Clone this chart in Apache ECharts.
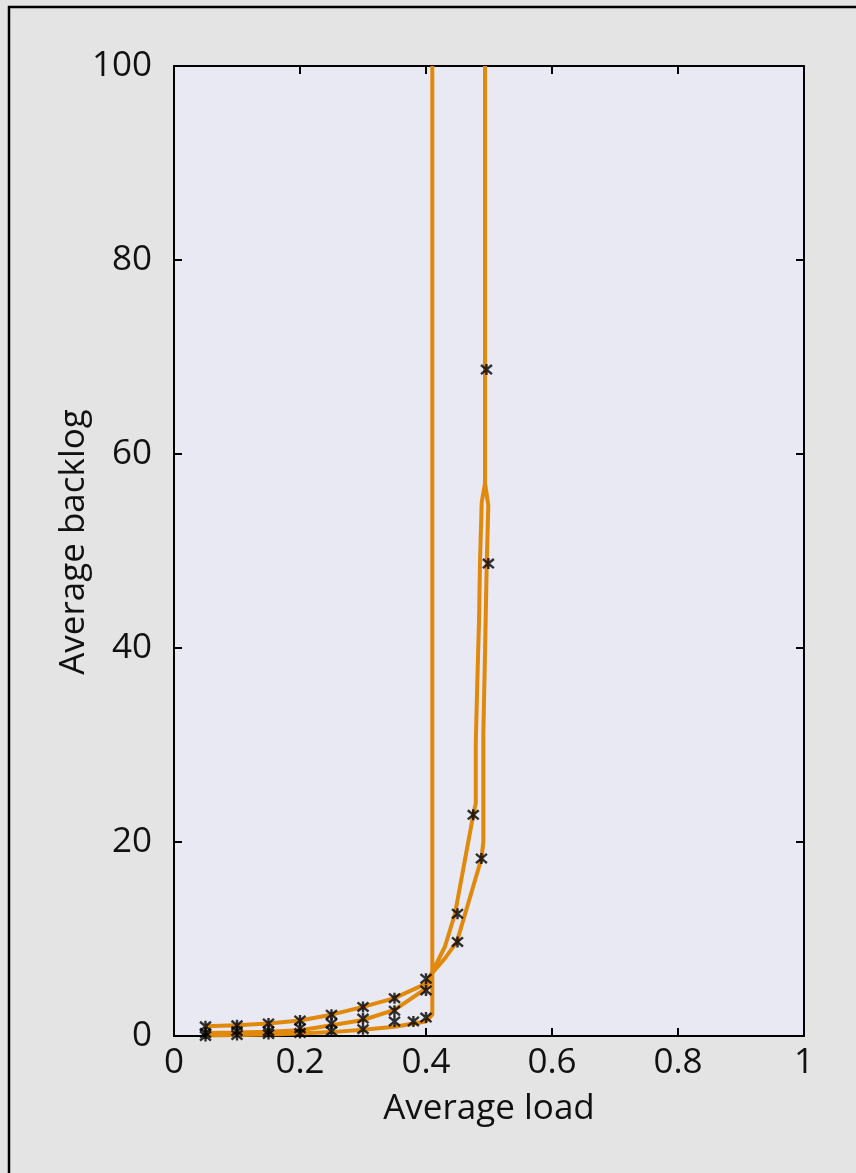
<!DOCTYPE html>
<html>
<head>
<meta charset="utf-8">
<script src="https://cdn.jsdelivr.net/npm/echarts@6/dist/echarts.min.js"></script>
<style>
  html, body { margin: 0; padding: 0; background: #e4e4e4; }
  #chart { width: 856px; height: 1173px; }
</style>
</head>
<body>
<div id="chart"></div>
<script>
// Axis ticks
const xTicks = [0, 0.2, 0.4, 0.6, 0.8, 1];
const yTicks = [0, 20, 40, 60, 80, 100];

// Analytical curves: [load, backlog]
const curveA = [[0.05,1.0],[0.1,1.1],[0.15,1.3],[0.2,1.6],[0.25,2.2],[0.3,3.0],[0.35,3.9],[0.4,5.4],[0.41,6.6],
  [0.43,9.2],[0.446,12.6],[0.475,22.8],[0.479,24],[0.479,30.2],[0.4814,36.4],[0.4841,42.6],[0.4857,48.8],
  [0.4884,55],[0.4937,57],[0.4937,100]];
const curveB = [[0.05,0.3],[0.1,0.35],[0.15,0.45],[0.2,0.6],[0.25,1.1],[0.3,1.65],[0.35,2.7],[0.4,4.9],[0.41,6.5],
  [0.43,8.0],[0.449,9.7],[0.488,18.3],[0.491,20],[0.491,31.2],[0.4937,39.5],[0.4963,48.4],[0.4989,54.7],
  [0.4937,57],[0.4937,100]];
const curveC = [[0.05,0.05],[0.1,0.1],[0.15,0.15],[0.2,0.25],[0.25,0.4],[0.3,0.65],[0.35,0.95],[0.4,1.5],[0.41,2.2],[0.41,100]];

// Simulation points: [load, backlog]
const simA = [[0.05,1.0],[0.1,1.1],[0.15,1.3],[0.2,1.6],[0.25,2.2],[0.3,3.0],[0.35,3.9],[0.4,5.9],[0.45,12.6],[0.475,22.8],[0.496,68.7]];
const simB = [[0.05,0.3],[0.1,0.5],[0.15,0.5],[0.2,0.8],[0.25,1.3],[0.3,1.8],[0.35,2.6],[0.4,4.7],[0.45,9.7],[0.488,18.3],[0.499,48.7]];
const simC = [[0.05,0.0],[0.1,0.1],[0.15,0.2],[0.2,0.3],[0.25,0.5],[0.3,0.7],[0.35,1.5],[0.38,1.5],[0.4,1.9]];

const ORANGE = '#e1890b';
const FONT = '"Open Sans", "Noto Sans", sans-serif';
const FONT_SIZE = 35;
const STAR = 'path://M0,0L10,10M10,0L0,10M5,-1L5,11';

const chart = echarts.init(document.getElementById('chart'), null, { renderer: 'canvas' });

function tickStyle() {
  return { show: true, inside: true, length: 8, lineStyle: { color: '#000', width: 2 } };
}
function lineAxis() {
  return { show: true, onZero: false, lineStyle: { color: '#000', width: 2 } };
}

function lineSeries(data) {
  return {
    type: 'line', data: data, showSymbol: false, symbol: 'none', z: 3,
    lineStyle: { color: ORANGE, width: 4 }, animation: false
  };
}
function simSeries(data) {
  return {
    type: 'scatter', data: data, symbol: STAR, symbolSize: 11, z: 4,
    itemStyle: { color: 'rgba(0,0,0,0)', borderColor: '#000', borderWidth: 2.4 },
    animation: false
  };
}

chart.setOption({
  backgroundColor: '#e4e4e4',
  animation: false,
  grid: {
    left: 174, right: 52, top: 66, bottom: 137,
    show: true, backgroundColor: '#e8e9f3', borderWidth: 0
  },
  xAxis: [{
    type: 'value', position: 'bottom', min: xTicks[0], max: xTicks[xTicks.length - 1], interval: 0.2,
    axisLine: lineAxis(), axisTick: tickStyle(), splitLine: { show: false },
    axisLabel: { color: '#111', fontSize: FONT_SIZE, fontFamily: FONT, margin: 10,
      formatter: v => String(+v.toFixed(1)) },
    name: 'Average load', nameLocation: 'middle', nameGap: 56,
    nameTextStyle: { color: '#111', fontSize: FONT_SIZE, fontFamily: FONT }
  }, {
    type: 'value', position: 'top', min: xTicks[0], max: xTicks[xTicks.length - 1], interval: 0.2,
    axisLine: lineAxis(), axisTick: tickStyle(), axisLabel: { show: false }, splitLine: { show: false }
  }],
  yAxis: [{
    type: 'value', position: 'left', min: yTicks[0], max: yTicks[yTicks.length - 1], interval: 20,
    axisLine: lineAxis(), axisTick: tickStyle(), splitLine: { show: false },
    axisLabel: { color: '#111', fontSize: FONT_SIZE, fontFamily: FONT, margin: 22 }
  }, {
    type: 'value', position: 'right', min: yTicks[0], max: yTicks[yTicks.length - 1], interval: 20,
    axisLine: lineAxis(), axisTick: tickStyle(), axisLabel: { show: false }, splitLine: { show: false }
  }],
  graphic: [{
    type: 'text', x: 74, y: 542, rotation: Math.PI / 2,
    style: { text: 'Average backlog', fill: '#111', fontSize: FONT_SIZE, fontFamily: FONT,
      textAlign: 'center', textVerticalAlign: 'middle' }
  }, {
    type: 'rect', z: 100, silent: true,
    shape: { x: 9, y: 7, width: 900, height: 1250 },
    style: { fill: 'none', stroke: '#000', lineWidth: 2.5 }
  }],
  series: [
    lineSeries(curveC), lineSeries(curveB), lineSeries(curveA),
    simSeries(simA), simSeries(simB), simSeries(simC)
  ]
});
</script>
</body>
</html>
